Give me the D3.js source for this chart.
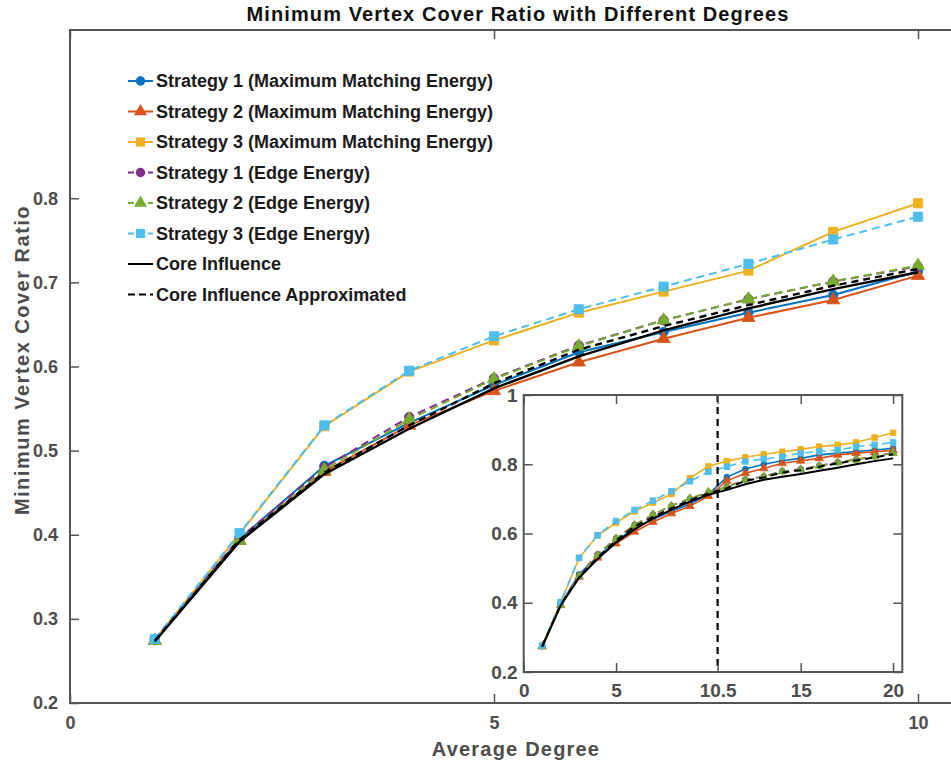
<!DOCTYPE html>
<html>
<head>
    <meta charset='utf-8'/>
    <title>min vertex cover ratio</title>
    <style>
        body { margin: 0; background: #fff; }
        text { font-family: "Liberation Sans", Arial, Helvetica, sans-serif; }
        .tick text { font-weight: bold; fill: #4d4d4d; }
        .tick line { stroke: #555; stroke-width: 1.5; }
        .legend text { font-weight: bold; fill: #1a1a1a; font-size: 18px; }
    </style>
</head>
<body>
<div id="chart"></div>

<script src="https://d3js.org/d3.v7.min.js"></script>
<script type="text/javascript">

    // degrees (main plot uses first 10, inset uses all 20)
    var degrees = d3.range(1, 21);

    // values
    var s1Match = [0.275, 0.395, 0.482, 0.533, 0.578, 0.617, 0.641, 0.664, 0.685, 0.713,
                   0.763, 0.786, 0.800, 0.810, 0.817, 0.827, 0.832, 0.837, 0.841, 0.846];
    var s2Match = [0.274, 0.393, 0.475, 0.530, 0.571, 0.605, 0.633, 0.658, 0.679, 0.708,
                   0.752, 0.774, 0.788, 0.803, 0.810, 0.817, 0.827, 0.832, 0.836, 0.840];
    var s3Match = [0.275, 0.401, 0.529, 0.594, 0.631, 0.664, 0.689, 0.714, 0.760, 0.794,
                   0.809, 0.820, 0.829, 0.836, 0.843, 0.851, 0.856, 0.863, 0.877, 0.891];
    var s1Edge = [0.275, 0.396, 0.480, 0.540, 0.586, 0.625, 0.655, 0.680, 0.701, 0.719,
                  0.735, 0.756, 0.765, 0.780, 0.786, 0.796, 0.806, 0.814, 0.823, 0.833];
    var s2Edge = [0.274, 0.393, 0.477, 0.537, 0.585, 0.624, 0.655, 0.680, 0.701, 0.720,
                  0.734, 0.755, 0.764, 0.779, 0.785, 0.795, 0.805, 0.813, 0.822, 0.832];
    var s3Edge = [0.276, 0.402, 0.530, 0.595, 0.636, 0.668, 0.695, 0.722, 0.751, 0.778,
                  0.793, 0.808, 0.815, 0.822, 0.832, 0.837, 0.841, 0.851, 0.856, 0.863];
    var coreInf = [0.273, 0.392, 0.472, 0.526, 0.574, 0.612, 0.643, 0.669, 0.692, 0.712,
                   0.726, 0.742, 0.755, 0.764, 0.772, 0.781, 0.790, 0.800, 0.809, 0.817];
    var coreApprox = [0.274, 0.394, 0.474, 0.530, 0.580, 0.620, 0.648, 0.673, 0.696, 0.716,
                      0.731, 0.752, 0.762, 0.776, 0.783, 0.793, 0.803, 0.811, 0.820, 0.829];

    var seriesNames = ["Strategy 1 (Maximum Matching Energy)", "Strategy 2 (Maximum Matching Energy)",
        "Strategy 3 (Maximum Matching Energy)", "Strategy 1 (Edge Energy)", "Strategy 2 (Edge Energy)",
        "Strategy 3 (Edge Energy)", "Core Influence", "Core Influence Approximated"];

    var mainXTicks = [0, 5, 10],
        mainYTicks = [0.2, 0.3, 0.4, 0.5, 0.6, 0.7, 0.8],
        insetXTicks = [0, 5, 10.5, 15, 20],
        insetYTicks = [0.2, 0.4, 0.6, 0.8, 1];

    // styles per series
    var series = [
        {name: seriesNames[0], v: s1Match, color: "#0072BD", dash: null, sym: d3.symbolCircle},
        {name: seriesNames[1], v: s2Match, color: "#D95319", dash: null, sym: d3.symbolTriangle},
        {name: seriesNames[2], v: s3Match, color: "#EDB120", dash: null, sym: d3.symbolSquare},
        {name: seriesNames[3], v: s1Edge, color: "#7E2F8E", dash: "8,5", sym: d3.symbolCircle},
        {name: seriesNames[4], v: s2Edge, color: "#77AC30", dash: "8,5", sym: d3.symbolTriangle},
        {name: seriesNames[5], v: s3Edge, color: "#4DBEEE", dash: "8,5", sym: d3.symbolSquare},
        {name: seriesNames[6], v: coreInf, color: "#000000", dash: null, sym: null},
        {name: seriesNames[7], v: coreApprox, color: "#000000", dash: "7,5", sym: null}
    ];

    var symSize = {main: {circle: 70, tri: 75, sq: 85}, inset: {circle: 26, tri: 30, sq: 32}};

    var svg_dx = 951, svg_dy = 767;

    var svg = d3.select("#chart")
        .append("svg")
        .attr("width", svg_dx)
        .attr("height", svg_dy);

    // main scales
    var x = d3.scaleLinear().domain([0, 10.5]).range([70, 960.4]),
        y = d3.scaleLinear().domain([0.2, 1.0]).range([703, 30]);

    // inset scales
    var xi = d3.scaleLinear().domain([0, 20.5]).range([523.7, 902.3]),
        yi = d3.scaleLinear().domain([0.2, 1.0]).range([672, 395]);

    function symbolSize(sym, sizes) {
        if (sym === d3.symbolCircle) return sizes.circle;
        if (sym === d3.symbolTriangle) return sizes.tri;
        return sizes.sq;
    }

    function drawAxes(g, sx, sy, xt, yt, xfmt, yfmt, pad) {
        g.append("rect")
            .attr("x", sx.range()[0])
            .attr("y", sy.range()[1])
            .attr("width", sx.range()[1] - sx.range()[0])
            .attr("height", sy.range()[0] - sy.range()[1])
            .attr("fill", "none")
            .attr("stroke", "#555")
            .attr("stroke-width", 2);

        var bottom = g.append("g")
            .attr("transform", "translate(0," + sy.range()[0] + ")")
            .call(d3.axisBottom(sx).tickValues(xt).tickSize(-9).tickPadding(pad.x).tickFormat(xfmt));
        var top = g.append("g")
            .attr("transform", "translate(0," + sy.range()[1] + ")")
            .call(d3.axisTop(sx).tickValues(xt).tickSize(-9).tickFormat(""));
        var left = g.append("g")
            .attr("transform", "translate(" + sx.range()[0] + ",0)")
            .call(d3.axisLeft(sy).tickValues(yt).tickSize(-9).tickPadding(pad.y).tickFormat(yfmt));
        var right = g.append("g")
            .attr("transform", "translate(" + sx.range()[1] + ",0)")
            .call(d3.axisRight(sy).tickValues(yt).tickSize(-9).tickFormat(""));

        [bottom, top, left, right].forEach(a => a.select(".domain").remove());
        bottom.selectAll("text").style("font-size", pad.fs + "px");
        left.selectAll("text").style("font-size", pad.fs + "px");
    }

    function drawSeries(g, sx, sy, n, sizes, lw) {
        series.forEach(s => {
            var pts = degrees.slice(0, n).map((d, i) => [d, s.v[i]]);

            var line = d3.line()
                .x(d => sx(d[0]))
                .y(d => sy(d[1]));

            g.append("path")
                .datum(pts)
                .attr("d", line)
                .attr("fill", "none")
                .attr("stroke", s.color)
                .attr("stroke-width", s.sym ? lw : lw + 0.4)
                .attr("stroke-dasharray", s.dash);

            if (s.sym) {
                g.selectAll(null)
                    .data(pts)
                    .enter()
                    .append("path")
                    .attr("transform", d => "translate(" + sx(d[0]) + "," + sy(d[1]) + ")")
                    .attr("d", d3.symbol().type(s.sym).size(symbolSize(s.sym, sizes)))
                    .attr("fill", s.color)
                    .attr("stroke", s.color)
                    .attr("stroke-width", 0.8);
            }
        });
    }

    /* main plot */
    var main = svg.append("g").attr("id", "main");
    drawAxes(main, x, y, mainXTicks, mainYTicks, d3.format("d"), d3.format(".1f"), {x: 13, y: 12, fs: 18});
    drawSeries(main, x, y, 10, symSize.main, 2);

    /* title and labels */
    svg.append("text")
        .attr("x", 518)
        .attr("y", 21)
        .attr("text-anchor", "middle")
        .style("font-size", "20px")
        .style("font-weight", "bold")
        .style("letter-spacing", "1.1px")
        .style("fill", "#111")
        .text("Minimum Vertex Cover Ratio with Different Degrees");

    svg.append("text")
        .attr("x", 516)
        .attr("y", 756)
        .attr("text-anchor", "middle")
        .style("font-size", "20px")
        .style("font-weight", "bold")
        .style("letter-spacing", "1.2px")
        .style("fill", "#4d4d4d")
        .text("Average Degree");

    svg.append("text")
        .attr("transform", "translate(29,360) rotate(-90)")
        .attr("text-anchor", "middle")
        .style("font-size", "20px")
        .style("font-weight", "bold")
        .style("letter-spacing", "1.5px")
        .style("fill", "#4d4d4d")
        .text("Minimum Vertex Cover Ratio");

    /* legend */
    var legend = svg.append("g").attr("class", "legend");
    series.forEach((s, i) => {
        var ly = 81 + i * 30.5;
        legend.append("line")
            .attr("x1", 128).attr("x2", 153)
            .attr("y1", ly).attr("y2", ly)
            .attr("stroke", s.color)
            .attr("stroke-width", 2)
            .attr("stroke-dasharray", s.dash ? (s.sym ? "6,14,6" : "7,4") : null);
        if (s.sym) {
            legend.append("path")
                .attr("transform", "translate(140.5," + ly + ")")
                .attr("d", d3.symbol().type(s.sym).size(symbolSize(s.sym, symSize.main)))
                .attr("fill", s.color);
        }
        legend.append("text")
            .attr("x", 156)
            .attr("y", ly)
            .attr("dy", "0.35em")
            .text(s.name);
    });

    /* inset */
    var inset = svg.append("g").attr("id", "inset");
    inset.append("rect")
        .attr("x", xi.range()[0])
        .attr("y", yi.range()[1])
        .attr("width", xi.range()[1] - xi.range()[0])
        .attr("height", yi.range()[0] - yi.range()[1])
        .attr("fill", "#fff");
    drawSeries(inset, xi, yi, 20, symSize.inset, 1.6);
    inset.append("line")
        .attr("x1", xi(10.5)).attr("x2", xi(10.5))
        .attr("y1", yi.range()[1]).attr("y2", yi.range()[0])
        .attr("stroke", "#000")
        .attr("stroke-width", 2.2)
        .attr("stroke-dasharray", "7,5");
    drawAxes(inset, xi, yi, insetXTicks, insetYTicks, d => d, d => d === 1 ? "1" : d3.format(".1f")(d), {x: 12, y: 6, fs: 19});

</script>

</body>
</html>
